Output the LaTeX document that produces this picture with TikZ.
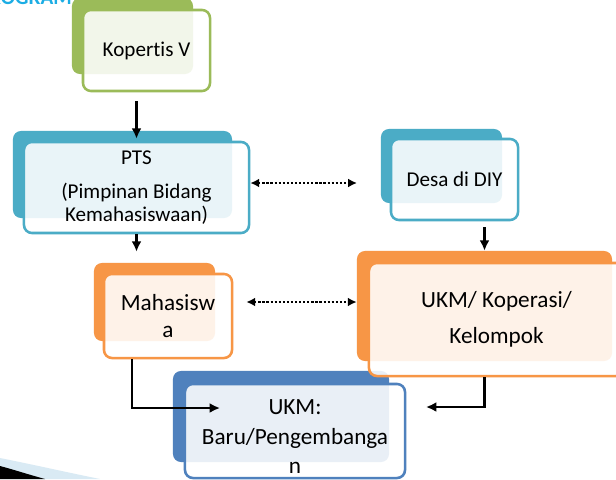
\documentclass[tikz,border=0pt]{standalone}
\usepackage{fontspec}
\setmainfont{Carlito}[Ligatures=NoCommon]
\usepackage{tikz}
\usetikzlibrary{arrows.meta,positioning}
\definecolor{kopgreen}{HTML}{9BBB59}
\definecolor{ptsteal}{HTML}{4BACC6}
\definecolor{mhsorange}{HTML}{F79646}
\definecolor{ukmblue}{HTML}{4F81BD}
\definecolor{titlecyan}{HTML}{1CADE4}
\definecolor{swooshblue}{HTML}{D9EAF4}
\newcommand{\boxfont}{\fontsize{15}{18}\selectfont}
\newcommand{\bigboxfont}{\fontsize{16.5}{19.5}\selectfont}

\begin{document}
\begin{tikzpicture}[
    % GLOBAL CFG
    x=0.025cm, y=-0.025cm,
    >={Latex[length=2.6mm,width=2.5mm]},
    % Styles
    back/.style={% the coloured card behind
        rectangle,
        rounded corners=2mm,
        fill=#1,
        inner sep=0pt,
        },
    front/.style={% the white card in front, with the text
        rectangle,
        rounded corners=2mm,
        draw=#1,
        line width=1.8pt,
        fill=white,
        fill opacity=0.88,
        text opacity=1,
        inner sep=0pt,
        align=center,
        },
    link/.style={% solid arrows
        line width=1.8pt,
        },
    dotlink/.style={% dotted double arrows
        line width=1.6pt,
        dash pattern=on 1.6pt off 1.3pt,
        >={Latex[length=2.2mm,width=2.2mm]},
        },
    ]

    \useasboundingbox (0,0) rectangle (616,479);
    \fill[white] (0,0) rectangle (616,479);

    % Title, cut off at the top
    \node[anchor=base east, inner sep=0pt, text=titlecyan, font=\bfseries\fontsize{15}{18}\selectfont] (title) at (72,5) {PROGRAM};

    % Swoosh, bottom left
    \fill[swooshblue] (0,458) .. controls (35,465) and (70,473) .. (100,479) -- (0,479) -- cycle;
    \fill[black] (0,466) .. controls (15,470) and (30,475) .. (45,479) -- (0,479) -- cycle;

    % Cards behind
    \node[back=kopgreen, minimum width=3.025cm, minimum height=1.9cm] (kopback) at (132.5,36) {};
    \node[back=ptsteal, minimum width=5.475cm, minimum height=2.175cm] (ptsback) at (122.5,174.5) {};
    \node[back=ptsteal, minimum width=3.025cm, minimum height=1.85cm] (desaback) at (441.5,166) {};
    \node[back=mhsorange, minimum width=3.025cm, minimum height=1.95cm] (mhsback) at (154.5,302) {};
    \node[back=mhsorange, minimum width=6.375cm, minimum height=2.75cm] (ukmback) at (484.5,306) {};
    \node[back=ukmblue, minimum width=5.4cm, minimum height=2.275cm] (baruback) at (281,416.5) {};

    % Cards in front
    \node[front=kopgreen, minimum width=3.175cm, minimum height=2.025cm, font=\boxfont] (kop) at (146.5,50.5) {Kopertis V};
    \node[front=ptsteal, minimum width=5.625cm, minimum height=2.275cm, font=\boxfont] (pts) at (136.5,187.5)
        {PTS\\[6pt](Pimpinan Bidang\\[-1.6pt]Kemahasiswaan)};
    \node[front=ptsteal, minimum width=3.175cm, minimum height=2.025cm, font=\boxfont] (desa) at (454.5,179.5) {Desa di DIY};
    \node[front=mhsorange, minimum width=3.2cm, minimum height=2.1cm, font=\bigboxfont] (mhs) at (168,316) {Mahasisw\\a};
    \node[front=mhsorange, minimum width=6.375cm, minimum height=2.825cm, font=\bigboxfont] (ukm) at (496.5,319.5)
        {UKM/ Koperasi/\\[6pt]Kelompok};
    \node[front=ukmblue, minimum width=5.5cm, minimum height=2.35cm] (baru) at (295,431) {};
    \node[align=center, inner sep=0pt, font=\fontsize{16.5}{21}\selectfont] (barutext) at (295,437)
        {UKM:\\Baru/Pengembanga\\n};

    % Solid arrows
    \draw[link, ->, shorten <=2.2mm, shorten >=0.5mm] (pts.north |- kop.south) -- (pts.north);
    \draw[link, ->, shorten >=2.75mm] (pts.south) -- (pts.south |- mhsback.north);
    \draw[link, ->, shorten <=1.5mm] (ukmback.north |- desa.south) -- (ukmback.north);

    \coordinate (inL) at (220,408);
    \coordinate (inR) at (426,407);
    \draw[link, ->] ([xshift=-0.9cm]mhs.south) |- (inL);
    \draw[link, ->] (ukm.south -| ukmback.south) |- (inR);

    % Dotted arrows
    \coordinate (dotA) at (357,183);
    \draw[dotlink, <->] (dotA -| pts.east) -- (dotA);
    \draw[dotlink, <->, shorten <=7.75mm] (mhsback.east) -- (mhsback.east -| ukmback.west);

\end{tikzpicture}
\end{document}
